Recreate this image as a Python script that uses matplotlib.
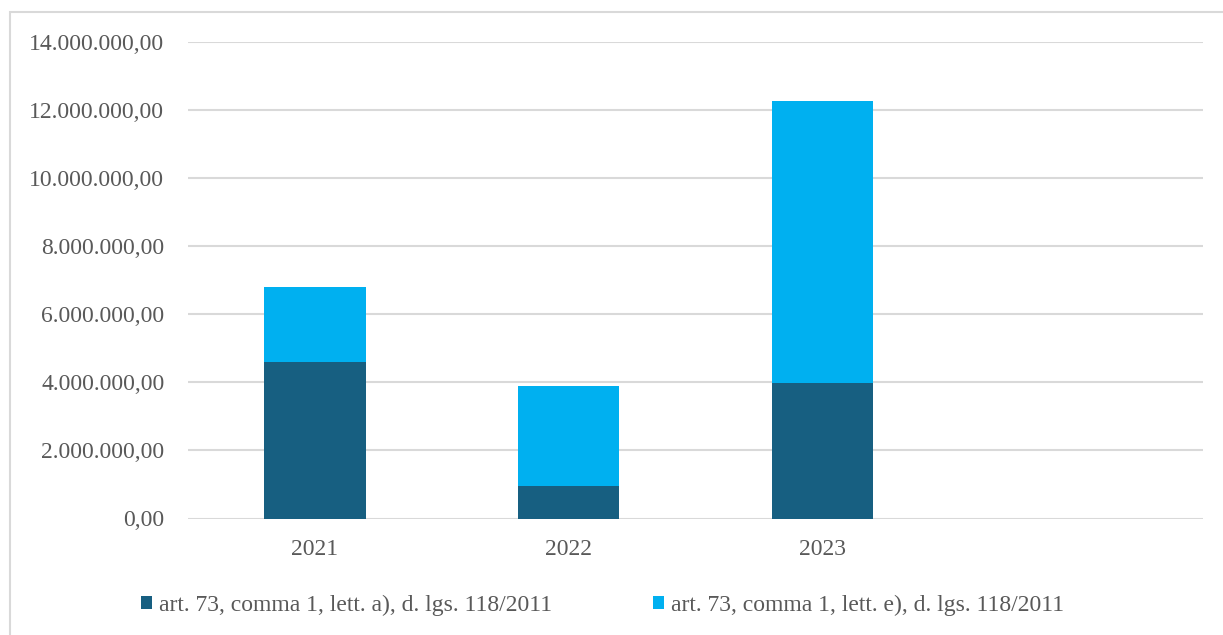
import matplotlib
matplotlib.use("Agg")
import matplotlib.pyplot as plt
from matplotlib.ticker import FuncFormatter, MultipleLocator
from matplotlib.patches import Rectangle

categories = ["2021", "2022", "2023"]
series_a = [4590000, 940000, 3990000]
series_e = [2190000, 2960000, 8250000]
labels = ["art. 73, comma 1, lett. a), d. lgs. 118/2011",
          "art. 73, comma 1, lett. e), d. lgs. 118/2011"]
colors = ["#175F81", "#00B0F0"]

plt.rcParams['font.family'] = ['Liberation Serif', 'DejaVu Serif']
W, H = 1223, 635
fig = plt.figure(figsize=(W / 100, H / 100), dpi=100)
fig.patches.append(Rectangle((10 / W, -0.1), 1.2, 1 - 12 / H + 0.1, transform=fig.transFigure,
                             fill=False, edgecolor="#d9d9d9", linewidth=1.5))

ax = fig.add_axes([188 / W, 1 - 518.5 / H, (1203 - 188) / W, (518.5 - 41.5) / H])
x = list(range(len(categories)))
ax.bar(x, series_a, width=0.4, color=colors[0], label=labels[0], zorder=3)
ax.bar(x, series_e, width=0.4, bottom=series_a, color=colors[1], label=labels[1], zorder=3)

ax.set_xlim(-0.5, 3.5)
ax.set_ylim(0, 14000000)
ax.yaxis.set_major_locator(MultipleLocator(2000000))

def fmt(v, pos):
    s = f"{v:,.2f}"
    return s.replace(",", "X").replace(".", ",").replace("X", ".")

ax.yaxis.set_major_formatter(FuncFormatter(fmt))
ax.set_xticks(x)
ax.set_xticklabels(categories)
ax.grid(axis="y", color="#d9d9d9", linewidth=1.5, zorder=0)
for s in ax.spines.values():
    s.set_visible(False)
ax.tick_params(axis="both", length=0, labelsize=17, colors="#595959")
ax.tick_params(axis="x", pad=15)
ax.tick_params(axis="y", pad=17)

fig.legend(loc="center left", bbox_to_anchor=(141 / W, 1 - 605 / H), ncol=2, frameon=False,
           fontsize=17, labelcolor="#595959", handlelength=0.45, handleheight=0.45,
           handletextpad=0.3, columnspacing=4.3, borderpad=0, borderaxespad=0)

fig.savefig("out.png", dpi=100)
